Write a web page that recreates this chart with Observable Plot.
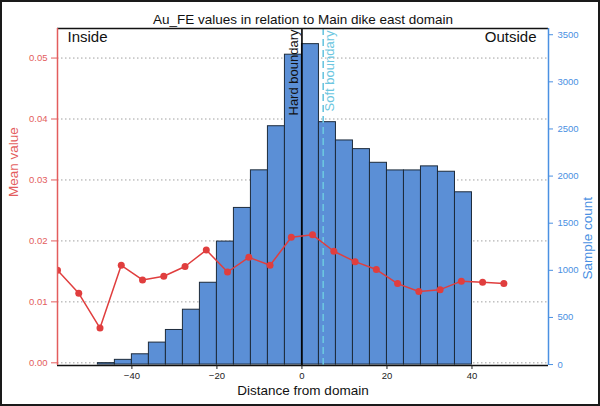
<!DOCTYPE html>
<html>
<head>
<meta charset="utf-8">
<script src="https://cdn.jsdelivr.net/npm/d3@7"></script>
<script src="https://cdn.jsdelivr.net/npm/@observablehq/plot@0.6"></script>
<style>
  html, body { margin: 0; padding: 0; background: #fff; }
  #chart svg { display: block; outline: 2px solid #1a1a1a; outline-offset: -2px; }
</style>
</head>
<body>
<div id="chart"></div>
<script>
// ---- data ----
const title = "Au_FE values in relation to Main dike east domain";
const binStarts = [-48, -44, -40, -36, -32, -28, -24, -20, -16, -12, -8, -4, 0, 4, 8, 12, 16, 20, 24, 28, 32, 36];
const binWidth = 4;
const sampleCounts = [15, 50, 109, 233, 367, 582, 868, 1305, 1662, 2061, 2529, 3288, 3400, 2572, 2378, 2286, 2141, 2060, 2060, 2103, 2046, 1828];
const meanX = [-57.5, -52.5, -47.5, -42.5, -37.5, -32.5, -27.5, -22.5, -17.5, -12.5, -7.5, -2.5, 2.5, 7.5, 12.5, 17.5, 22.5, 27.5, 32.5, 37.5, 42.5, 47.5];
const meanValues = [0.0152, 0.0114, 0.0057, 0.0160, 0.0136, 0.0142, 0.0158, 0.0185, 0.0149, 0.0173, 0.0160, 0.0206, 0.0210, 0.0183, 0.0166, 0.0153, 0.0130, 0.0117, 0.0120, 0.0134, 0.0132, 0.0130];
const hardBoundary = [0];
const softBoundary = [5];
const xTicks = [-40, -20, 0, 20, 40];
const meanTicks = [0, 0.01, 0.02, 0.03, 0.04, 0.05];
const countTicks = [0, 500, 1000, 1500, 2000, 2500, 3000, 3500];
const xDomain = [-57.5, 58];
const countDomain = [-10, 3566];
const meanDomain = [-0.00044, 0.05485];

// ---- colours ----
const red = "#e03e3e";
const redAxis = "#e35d5d";
const blue = "#4a90e2";
const barFill = "#5b8fd6";
const barEdge = "#1d2b3b";
const softColor = "#6cc6e0";
const font = "Liberation Sans, Arial, Helvetica, sans-serif";

// secondary (mean value) axis mapped onto the count scale
const toCount = m => countDomain[0] + (m - meanDomain[0]) / (meanDomain[1] - meanDomain[0]) * (countDomain[1] - countDomain[0]);
const toMean = c => meanDomain[0] + (c - countDomain[0]) / (countDomain[1] - countDomain[0]) * (meanDomain[1] - meanDomain[0]);

const bins = binStarts.map((s, i) => ({x1: s, x2: s + binWidth, count: sampleCounts[i]}));
const means = meanX.map((x, i) => ({x, m: meanValues[i]}));

const chart = Plot.plot({
  width: 600,
  height: 406,
  marginLeft: 57,
  marginRight: 52,
  marginTop: 28,
  marginBottom: 41,
  style: {fontFamily: font, background: "#fff", overflow: "visible"},
  x: {domain: xDomain},
  y: {domain: countDomain},
  marks: [
    Plot.gridY(meanTicks.map(toCount), {stroke: "#a0a0a0", strokeOpacity: 1, strokeDasharray: "1.5,2.5"}),
    Plot.rectY(bins, {x1: "x1", x2: "x2", y: "count", fill: barFill, stroke: barEdge, strokeWidth: 1}),
    Plot.ruleX(hardBoundary, {stroke: "#000", strokeWidth: 1.6}),
    Plot.ruleX(softBoundary, {stroke: softColor, strokeWidth: 1.6, strokeDasharray: "7,4"}),
    Plot.line(means, {x: "x", y: d => toCount(d.m), stroke: red, strokeWidth: 1.5, clip: true}),
    Plot.dot(means, {x: "x", y: d => toCount(d.m), r: 3.5, fill: red, clip: true}),
    // spines
    Plot.ruleY([countDomain[1]], {stroke: "#111", strokeWidth: 1.5}),
    Plot.ruleY([countDomain[0]], {stroke: "#111", strokeWidth: 1.5}),
    Plot.ruleX([xDomain[0]], {stroke: redAxis, strokeWidth: 1.5}),
    Plot.ruleX([xDomain[1]], {stroke: blue, strokeWidth: 1.5}),
    // axes
    Plot.axisX({ticks: xTicks, tickSize: 4, tickPadding: 3, fontSize: 9.5, color: "#222", label: null}),
    Plot.axisY({anchor: "left", ticks: meanTicks.map(toCount), tickFormat: d => d3.format(".2f")(toMean(d)), tickSize: 6, tickPadding: 4, fontSize: 9.5, color: redAxis, label: null}),
    Plot.axisY({anchor: "right", ticks: countTicks, tickFormat: d => String(d), tickSize: 4, tickPadding: 5, fontSize: 9.5, color: blue, label: null}),
    // texts
    Plot.text([title], {frameAnchor: "top", dy: -14, fontSize: 13.5, fill: "#111"}),
    Plot.text(["Inside"], {frameAnchor: "top-left", textAnchor: "start", lineAnchor: "top", dx: 10, dy: 3, fontSize: 15, fill: "#111"}),
    Plot.text(["Outside"], {frameAnchor: "top-right", textAnchor: "end", lineAnchor: "top", dx: -12, dy: 3, fontSize: 15, fill: "#111"}),
    Plot.text(hardBoundary, {x: d => d, text: () => "Hard boundary", frameAnchor: "top", rotate: -90, textAnchor: "end", dx: -13.5, dy: 1, fontSize: 13, fill: "#111"}),
    Plot.text(softBoundary, {x: d => d, text: () => "Soft boundary", frameAnchor: "top", rotate: -90, textAnchor: "end", dx: 2, dy: 2, fontSize: 13, fill: softColor}),
    Plot.text(["Mean value"], {frameAnchor: "left", rotate: -90, dx: -44, fontSize: 13.5, fill: redAxis}),
    Plot.text(["Sample count"], {frameAnchor: "right", rotate: -90, dx: 39, fontSize: 13.5, fill: blue}),
    Plot.text(["Distance from domain"], {frameAnchor: "bottom", dy: 29, fontSize: 13.5, fill: "#111"})
  ]
});
document.getElementById("chart").appendChild(chart);
</script>
</body>
</html>
